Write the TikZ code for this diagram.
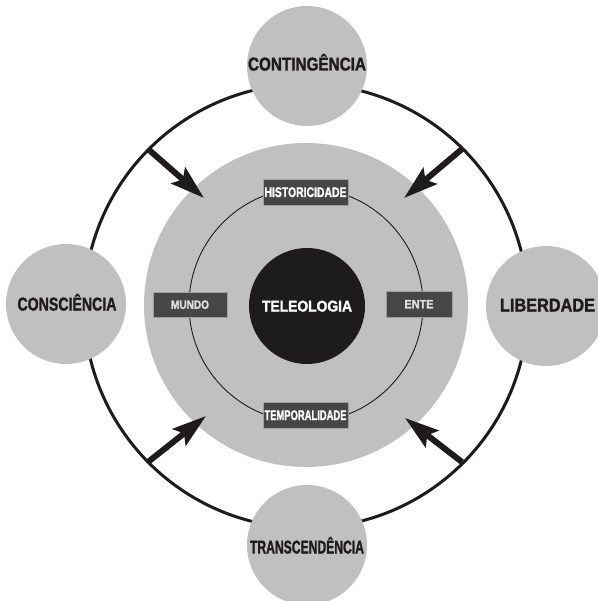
\documentclass[tikz,border=0pt]{standalone}
\usepackage{fontspec}
\setmainfont{Liberation Sans}[BoldFeatures={FakeBold=1.6}]
\usetikzlibrary{arrows.meta}
\definecolor{circgray}{HTML}{C0C0C0}
\definecolor{boxgray}{HTML}{464646}
\definecolor{ink}{HTML}{1E1B1C}
\newcommand{\fitw}[2]{\resizebox{#1}{\height}{#2}}
\begin{document}
\begin{tikzpicture}[x=1pt,y=-1pt,
  satellite/.style={circle, fill=circgray, minimum size=120pt, inner sep=0pt},
  biglabel/.style={font=\fontsize{18.5}{18.5}\selectfont\bfseries, text=ink, inner sep=0pt, text height=13pt, text depth=0pt},
  tagbox/.style={fill=boxgray, draw=gray!75, line width=0.6pt, inner sep=0pt, text=white,
                 text height=10pt, text depth=0pt, font=\fontsize{14}{14}\selectfont\bfseries},
  smalltag/.style={tagbox, text=white!88!black, text height=8.5pt, font=\fontsize{12}{12}\selectfont\bfseries},
  push/.style={draw=ink, line width=6pt, -{Stealth[length=34pt,width=21pt,inset=6pt]}}
]
\useasboundingbox (0,0) rectangle (597,601);

% central gray disc, orbit and core
\node[circle, fill=circgray, minimum size=324pt, inner sep=0pt] (disc) at (306,305) {};
\node[circle, draw=ink, line width=0.9pt, minimum size=234pt, inner sep=0pt] (orbit) at (306,305) {};
\node[circle, fill=ink, minimum size=116pt, inner sep=0pt, text=white, text height=11pt, text depth=0pt,
      font=\fontsize{15.5}{15.5}\selectfont\bfseries] (tel) at (307,306) {\fitw{90pt}{TELEOLOGIA}};

% tags on the orbit
\node[tagbox, minimum width=85pt, minimum height=26pt] (hist) at (305.5,192) {\fitw{82pt}{HISTORICIDADE}};
\node[tagbox, minimum width=85pt, minimum height=26pt] (temp) at (305.5,415) {\fitw{82pt}{TEMPORALIDADE}};
\node[smalltag, minimum width=74pt, minimum height=25pt] (mundo) at (190,304.5) {\fitw{38pt}{MUNDO}};
\node[smalltag, minimum width=66pt, minimum height=26pt] (ente) at (419,304) {\fitw{29pt}{ENTE}};

% outer ring
\node[circle, draw=ink, line width=3pt, minimum size=444pt, inner sep=0pt] (ring) at (306,306) {};

% satellites
\node[satellite] (cont) at (307,66) {};
\node[satellite] (cons) at (66,304) {};
\node[satellite] (lib) at (546,306) {};
\node[satellite] (trans) at (307,545) {};
\node[biglabel] (contl) at (307,64) {\fitw{118pt}{CONTINGÊNCIA}};
\node[biglabel] (consl) at (67,304) {\fitw{99pt}{CONSCIÊNCIA}};
\node[biglabel] (libl) at (547.5,305) {\fitw{95pt}{LIBERDADE}};
\node[biglabel] (transl) at (307,547) {\fitw{114pt}{TRANSCENDÊNCIA}};

% arrows from the ring towards the disc
\coordinate (s1) at (148,149);
\coordinate (t1) at (204,198);
\coordinate (s2) at (462,149);
\coordinate (t2) at (404,198);
\coordinate (s3) at (148,462);
\coordinate (t3) at (206,416);
\coordinate (s4) at (462,462);
\coordinate (t4) at (405,418);
\draw[push] (s1) -- (t1);
\draw[push] (s2) -- (t2);
\draw[push] (s3) -- (t3);
\draw[push] (s4) -- (t4);
\end{tikzpicture}
\end{document}
